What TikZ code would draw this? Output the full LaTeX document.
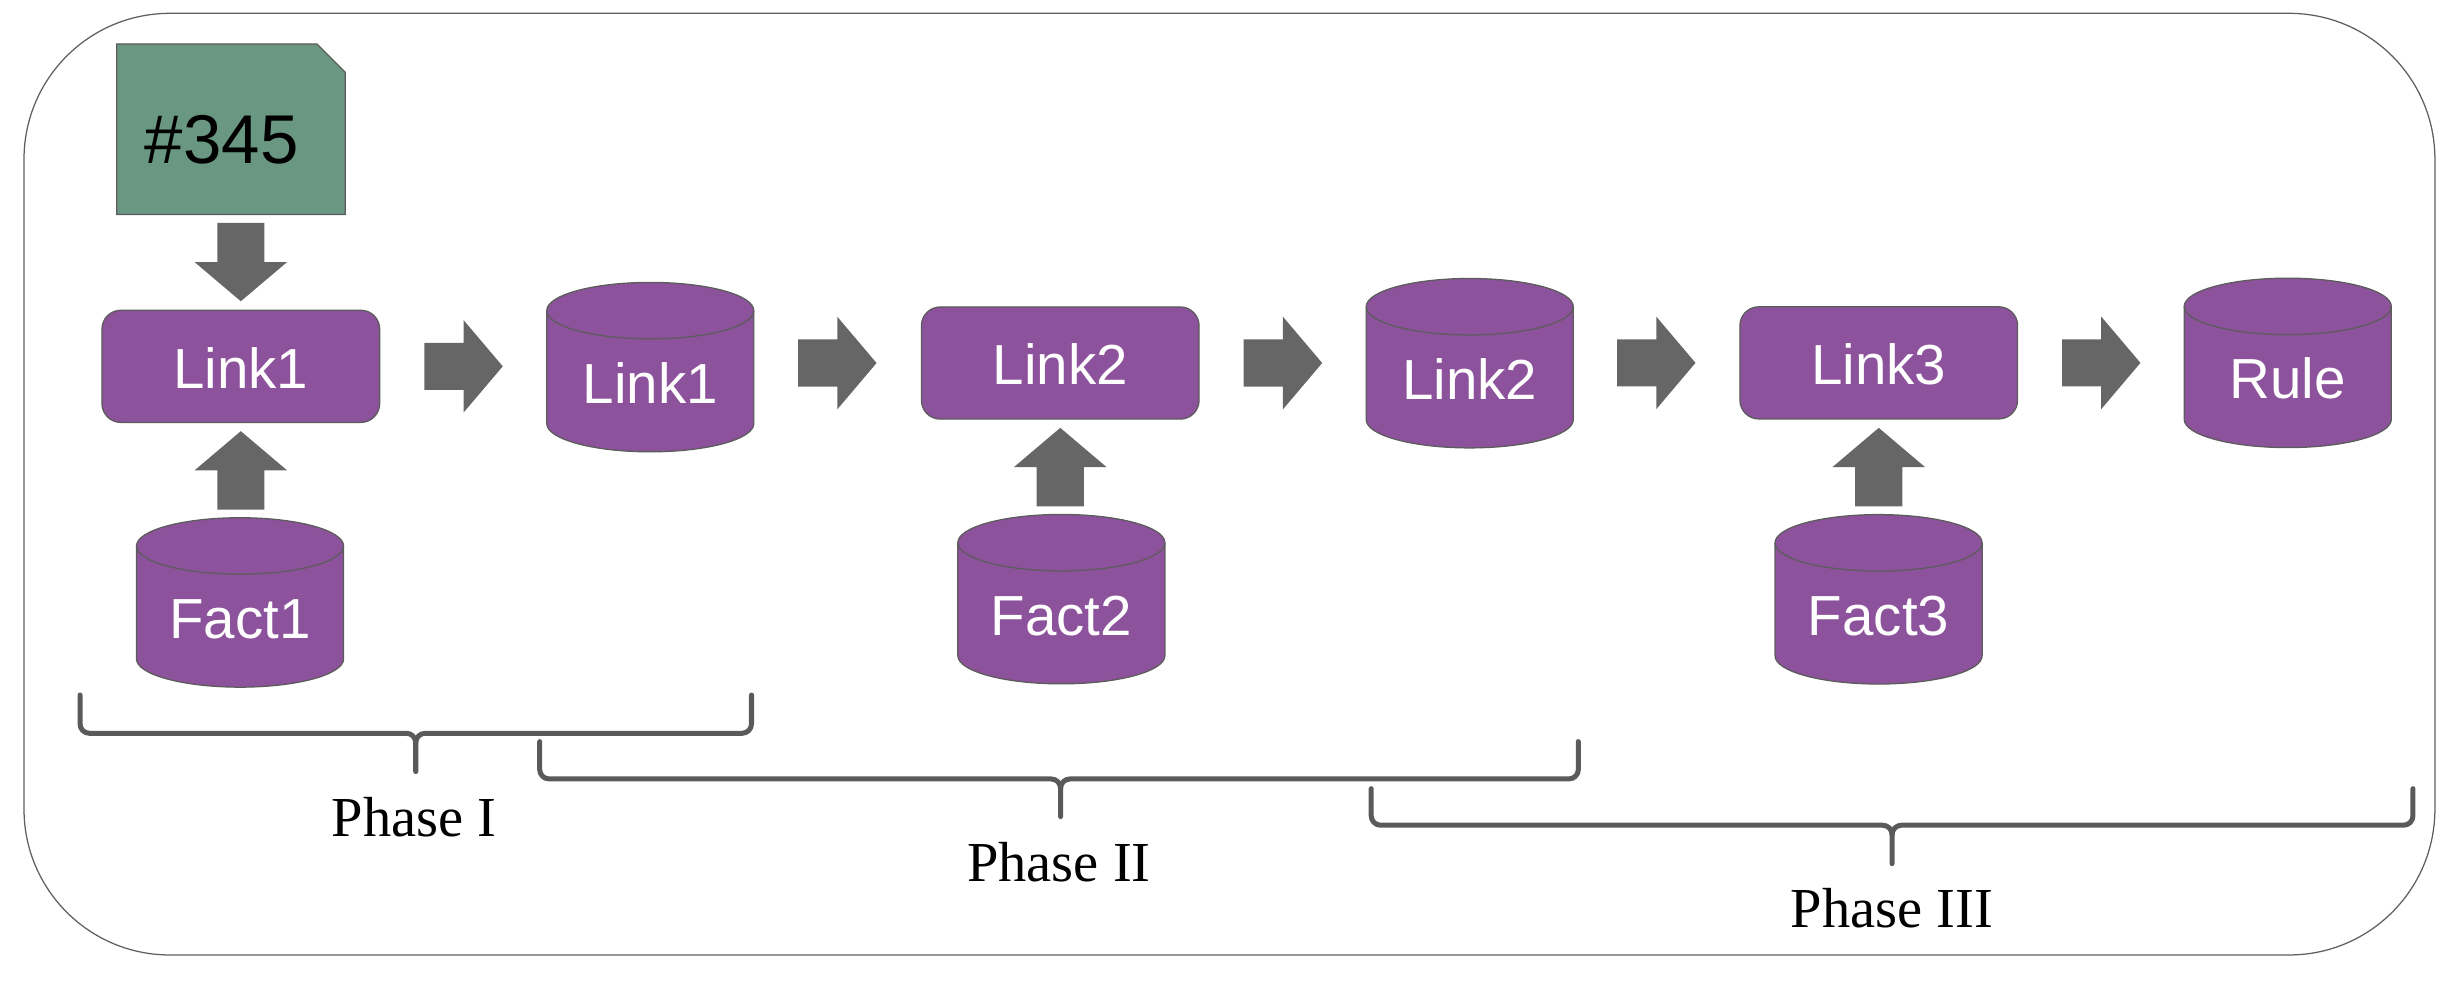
\documentclass[tikz,border=0pt]{standalone}
\usepackage{fontspec}
\setmainfont{Liberation Serif}
\newfontfamily\arialf{Liberation Sans}
\usetikzlibrary{calc}
\pgfdeclarelayer{background}
\pgfsetlayers{background,main}
\definecolor{purp}{RGB}{140,82,155}
\definecolor{tagg}{RGB}{105,151,130}
\definecolor{arrg}{RGB}{102,102,102}
\definecolor{edgeg}{RGB}{92,92,92}
\definecolor{braceg}{RGB}{90,90,90}
\definecolor{frameg}{RGB}{95,95,95}
\newcommand\blockarrow[2]{\fill[arrowstyle, shift={#1}, rotate=#2] (-25,-15) -- (0,-15) -- (0,-29.5) -- (25,0) -- (0,29.5) -- (0,15) -- (-25,15) -- cycle;}
\newcommand\cylshape[1]{%
  \filldraw[cylstyle] ([yshift=-9pt]#1.north west) -- ([yshift=9pt]#1.south west)
    arc[start angle=180, end angle=360, x radius=33pt, y radius=9pt]
    -- ([yshift=-9pt]#1.north east)
    arc[start angle=0, end angle=180, x radius=33pt, y radius=9pt] -- cycle;
  \draw[cylstyle, fill=none] ([yshift=-9pt]#1.north west)
    arc[start angle=180, end angle=360, x radius=33pt, y radius=9pt];}
\newcommand\phasebrace[6]{%
  \draw[bracestyle] (#1,#4) -- (#1,#5+6) to[out=-90,in=180] (#1+6,#5) -- (#3-6,#5) to[out=0,in=90] (#3,#5-6) -- (#3,#6);
  \draw[bracestyle] (#3,#5-6) to[out=90,in=180] (#3+6,#5) -- (#2-6,#5) to[out=0,in=-90] (#2,#5+6) -- (#2,#4);}
\begin{document}
\begin{tikzpicture}[x=0.5pt,y=0.5pt,
  labelfont/.style={font=\arialf\fontsize{18}{20}\selectfont, text=white},
  boxnode/.style={rectangle, rounded corners=6pt, fill=purp, draw=edgeg, line width=0.4pt,
    minimum width=88.5pt, minimum height=35.75pt, inner sep=0pt, labelfont,
    text height=14pt, text depth=0pt},
  cylnode/.style={rectangle, inner sep=0pt, outer sep=0pt, minimum width=66pt,
    minimum height=54pt, labelfont, text height=23pt, text depth=0pt},
  tagnode/.style={rectangle, inner sep=0pt, outer sep=0pt, minimum width=72.8pt,
    minimum height=54.35pt, font=\arialf\fontsize{22}{24}\selectfont, text=black,
    text height=21.65pt, text depth=0pt},
  cylstyle/.style={fill=purp, draw=edgeg, line width=0.4pt},
  tagstyle/.style={fill=tagg, draw=edgeg, line width=0.4pt},
  arrowstyle/.style={fill=arrg},
  bracestyle/.style={draw=braceg, line width=1.6pt, line cap=round, line join=round},
  framestyle/.style={draw=frameg, line width=0.4pt, rounded corners=46.5pt},
  phasefont/.style={font=\fontsize{18}{20}\selectfont, anchor=base, inner sep=0pt}
]
\useasboundingbox (0,0) rectangle (1568,632);

% nodes
\node[tagnode] (tag) at (147.2,549.65) {\#345\hspace*{5.9pt}};
\node[boxnode] (link1) at (153.5,398.5) {Link1};
\node[boxnode] (link2) at (675.8,400.6) {Link2};
\node[boxnode] (link3) at (1197.5,400.7) {Link3};
\node[cylnode] (cyl1) at (414.5,398) {Link1};
\node[cylnode] (cyl2) at (936.8,400.5) {Link2};
\node[cylnode] (rule) at (1458.2,400.7) {Rule};
\node[cylnode] (fact1) at (153,248) {Fact1};
\node[cylnode] (fact2) at (676.5,250.1) {Fact2};
\node[cylnode] (fact3) at (1197.4,250) {Fact3};

\node[phasefont] (p1) at (264,98.5) {Phase I};
\node[phasefont] (p2) at (675,70.2) {Phase II};
\node[phasefont] (p3) at (1206,40.7) {Phase III};

\begin{pgfonlayer}{background}
  \draw[framestyle] (15.3,23.3) rectangle (1552,623.5);
  \filldraw[tagstyle] (tag.south west) -- (tag.north west) -- ([xshift=-9pt]tag.north east)
    -- ([yshift=-9pt]tag.north east) -- (tag.south east) -- cycle;
  \cylshape{cyl1}
  \cylshape{cyl2}
  \cylshape{rule}
  \cylshape{fact1}
  \cylshape{fact2}
  \cylshape{fact3}
\end{pgfonlayer}

% block arrows
\blockarrow{($(link1.east)!0.5!(cyl1.west |- link1.east)$)}{0}
\blockarrow{($(cyl1.east |- link2.west)!0.5!(link2.west)$)}{0}
\blockarrow{($(link2.east)!0.5!(cyl2.west |- link2.east)$)}{0}
\blockarrow{($(cyl2.east |- link3.west)!0.5!(link3.west)$)}{0}
\blockarrow{($(link3.east)!0.5!(rule.west |- link3.east)$)}{0}
\blockarrow{($(link1.north)!0.5!(tag.south -| link1.north)$)}{-90}
\blockarrow{($(link1.south)!0.5!(fact1.north -| link1.south)$)}{90}
\blockarrow{($(link2.south)!0.5!(fact2.north -| link2.south)$)}{90}
\blockarrow{($(link3.south)!0.5!(fact3.north -| link3.south)$)}{90}

% phase braces
\phasebrace{51}{479}{265}{189}{164.6}{140.2}
\phasebrace{344}{1006}{676}{159.3}{135.5}{111.5}
\phasebrace{874}{1538}{1206}{129.3}{106}{81.5}
\end{tikzpicture}
\end{document}
